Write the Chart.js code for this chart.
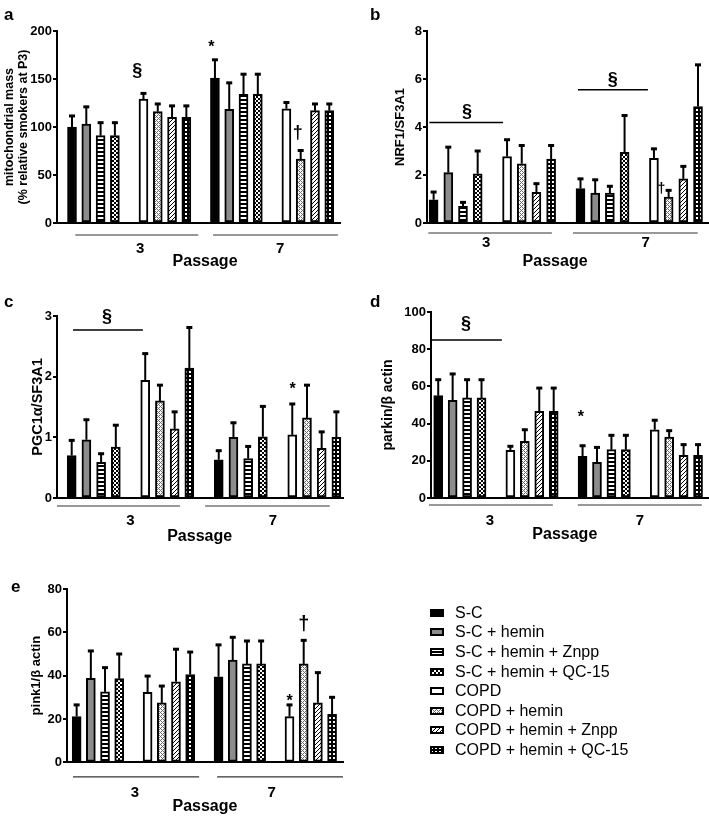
<!DOCTYPE html>
<html>
<head>
<meta charset="utf-8">
<script src="https://cdn.jsdelivr.net/npm/chart.js"></script>
<style>
  body { margin: 0; background: #fff; }
  #page { position: relative; width: 709px; height: 820px; overflow: hidden; background: #fff; }
  .panel { position: absolute; }
  #legend { position: absolute; left: 430px; top: 603px; font: 16px Arial, "Liberation Sans", sans-serif; color: #000; }
  #legend .item { height: 19.6px; display: flex; align-items: center; white-space: nowrap; }
  #legend canvas { width: 14px; height: 8px; margin-right: 11px; }
</style>
</head>
<body>
<div id="page">
  <div class="panel" style="left:0;top:0;width:350px;height:270px"><canvas id="chartA"></canvas></div>
  <div class="panel" style="left:355px;top:0;width:354px;height:270px"><canvas id="chartB"></canvas></div>
  <div class="panel" style="left:0;top:270px;width:350px;height:280px"><canvas id="chartC"></canvas></div>
  <div class="panel" style="left:355px;top:270px;width:354px;height:280px"><canvas id="chartD"></canvas></div>
  <div class="panel" style="left:0;top:540px;width:350px;height:280px"><canvas id="chartE"></canvas></div>
  <div id="legend"></div>
</div>
<script>
// treatments, in the order the bars appear inside each S-C / COPD group
const treatments = ['S-C', 'S-C + hemin', 'S-C + hemin + Znpp', 'S-C + hemin + QC-15',
                    'COPD', 'COPD + hemin', 'COPD + hemin + Znpp', 'COPD + hemin + QC-15'];
const passages = ['3', '7'];

// a: mitochondrial mass (% relative smokers at P3), mean and error
const massP3 = [100, 103, 91, 91, 129, 116, 110, 110];
const massP7 = [151, 118.5, 134, 134, 119, 66.5, 117, 117];
const massErrP3 = [11.5, 18, 13.5, 13.5, 6, 8, 12, 12];
const massErrP7 = [19, 27.5, 21, 21, 6.5, 9, 7, 7];

// b: NRF1/SF3A1
const nrf1P3 = [0.97, 2.1, 0.69, 2.05, 2.77, 2.47, 1.28, 2.66];
const nrf1P7 = [1.43, 1.25, 1.25, 2.94, 2.69, 1.08, 1.84, 4.85];
const nrf1ErrP3 = [0.32, 1.06, 0.17, 0.95, 0.7, 0.76, 0.36, 0.57];
const nrf1ErrP7 = [0.41, 0.55, 0.28, 1.54, 0.4, 0.28, 0.52, 1.74];

// c: PGC1a/SF3A1
const pgcP3 = [0.70, 0.96, 0.59, 0.84, 1.94, 1.6, 1.14, 2.14];
const pgcP7 = [0.63, 1.0, 0.65, 1.01, 1.04, 1.32, 0.82, 1.0];
const pgcErrP3 = [0.25, 0.33, 0.14, 0.36, 0.44, 0.26, 0.28, 0.67];
const pgcErrP7 = [0.15, 0.24, 0.2, 0.5, 0.51, 0.54, 0.27, 0.42];

// d: parkin/beta actin
const parkinP3 = [55, 52.5, 53.8, 53.8, 25.6, 30.5, 46.6, 46.6];
const parkinP7 = [22.4, 19.2, 26, 26, 36.7, 32.8, 22.9, 22.9];
const parkinErrP3 = [8.6, 14.2, 9.8, 9.8, 2.2, 6.2, 12.5, 12.5];
const parkinErrP7 = [5.7, 8, 7.7, 7.7, 5.1, 3.4, 5.8, 5.8];

// e: pink1/beta actin
const pinkP3 = [21.1, 38.8, 32.5, 38.6, 32.3, 27.4, 37.2, 40.5];
const pinkP7 = [39.5, 47.2, 45.4, 45.4, 21.1, 45.4, 27.5, 22.2];
const pinkErrP3 = [5.4, 12.6, 11.2, 11.4, 7.5, 7.8, 15, 10.4];
const pinkErrP7 = [14.7, 10.5, 10.6, 10.6, 5.4, 10.9, 13.9, 7.8];

const FONT = 'Arial, "Liberation Sans", Helvetica, sans-serif';
Chart.defaults.font.family = FONT;
Chart.defaults.color = '#000';

// bar fills: solid colours or small repeating tiles
function tile(w, h, draw) {
  const c = document.createElement('canvas');
  c.width = w; c.height = h;
  draw(c.getContext('2d'));
  return c;
}
const tiles = [
  null,
  null,
  tile(1, 4, g => { g.fillStyle = '#000'; g.fillRect(0, 0, 1, 4); g.fillStyle = '#fff'; g.fillRect(0, 1, 1, 2); }),
  tile(4, 4, g => { g.fillStyle = '#fff'; g.fillRect(0, 0, 4, 4); g.fillStyle = '#000'; g.fillRect(0, 0, 2, 2); g.fillRect(2, 2, 2, 2); }),
  null,
  tile(4, 4, g => {
    g.fillStyle = '#fff'; g.fillRect(0, 0, 4, 4); g.fillStyle = '#6a6a6a';
    [[0, 0], [1, 1], [2, 2], [3, 3], [3, 1], [1, 3]].forEach(([x, y]) => g.fillRect(x, y, 1, 1));
  }),
  tile(4, 4, g => {
    g.fillStyle = '#fff'; g.fillRect(0, 0, 4, 4); g.fillStyle = '#000';
    [[0, 3], [1, 2], [2, 1], [3, 0]].forEach(([x, y]) => g.fillRect(x, y, 1, 1));
  }),
  tile(4, 4, g => { g.fillStyle = '#000'; g.fillRect(0, 0, 4, 4); g.fillStyle = '#fff'; g.fillRect(1, 1, 2, 2); })
];
const solids = ['#000', '#8c8c8c', null, null, '#fff', null, null, null];
function fillFor(ctx, t) {
  return tiles[t] ? ctx.createPattern(tiles[t], 'repeat') : solids[t];
}
const scratch = document.createElement('canvas').getContext('2d');

// bar slot on the x scale: 4 bars per group, one empty slot between groups
function slotOf(t, p) {
  return (p * 2 + (t < 4 ? 0 : 1)) * 5 + (t % 4);
}

const errorBars = {
  id: 'errorBars',
  afterDatasetsDraw(chart) {
    const { ctx } = chart;
    const y = chart.scales.y;
    ctx.save();
    ctx.strokeStyle = '#000';
    chart.data.datasets.forEach((ds, i) => {
      chart.getDatasetMeta(i).data.forEach((bar, j) => {
        const top = y.getPixelForValue(ds.data[j].y + ds.errors[j]);
        ctx.lineWidth = 2;
        ctx.beginPath();
        ctx.moveTo(bar.x, bar.y);
        ctx.lineTo(bar.x, top);
        ctx.stroke();
        ctx.lineWidth = 3;
        ctx.beginPath();
        ctx.moveTo(bar.x - 3, top);
        ctx.lineTo(bar.x + 3, top);
        ctx.stroke();
      });
    });
    ctx.restore();
  }
};

const markSize = { '§': 18, '*': 16, '†': 18 };

const decor = {
  id: 'decor',
  afterDraw(chart, args, o) {
    const { ctx, chartArea } = chart;
    const x = chart.scales.x, y = chart.scales.y;
    const base = chartArea.bottom;
    ctx.save();
    ctx.fillStyle = '#000';
    ctx.strokeStyle = '#000';
    ctx.textBaseline = 'alphabetic';

    ctx.textAlign = 'left';
    ctx.font = 'bold 17px ' + FONT;
    ctx.fillText(o.letter, o.letterAt[0], o.letterAt[1]);

    ctx.lineWidth = 1.5;
    (o.brackets || []).forEach(b => {
      const py = y.getPixelForValue(b.value);
      ctx.beginPath();
      ctx.moveTo(x.getPixelForValue(b.from), py);
      ctx.lineTo(x.getPixelForValue(b.to), py);
      ctx.stroke();
    });

    ctx.textAlign = 'center';
    (o.marks || []).forEach(m => {
      ctx.font = 'bold ' + (m.size || markSize[m.text]) + 'px ' + FONT;
      const mt = ctx.measureText(m.text);
      const off = (mt.actualBoundingBoxAscent - mt.actualBoundingBoxDescent) / 2;
      ctx.fillText(m.text, x.getPixelForValue(m.slot), y.getPixelForValue(m.value) + off);
    });

    // passage brackets under the axis
    ctx.lineWidth = 1.2;
    ctx.strokeStyle = '#333';
    o.spans.forEach((s, i) => {
      const py = base + o.gaps[0];
      ctx.beginPath();
      ctx.moveTo(x.getPixelForValue(s[0]), py);
      ctx.lineTo(x.getPixelForValue(s[1]), py);
      ctx.stroke();
      ctx.font = 'bold 15px ' + FONT;
      const mt = ctx.measureText(passages[i]);
      ctx.fillText(passages[i], x.getPixelForValue(o.labelSlots[i]),
        base + o.gaps[1] + mt.actualBoundingBoxAscent / 2);
    });
    ctx.font = 'bold 16px ' + FONT;
    const pt = ctx.measureText('Passage');
    ctx.fillText('Passage', x.getPixelForValue(o.labelSlots[2]), base + o.gaps[2] + pt.actualBoundingBoxAscent / 2 - 2);
    ctx.restore();
  }
};

function makePanel(id, p) {
  const datasets = treatments.map((name, t) => ({
    label: name,
    data: [{ x: slotOf(t, 0), y: p.p3[t] }, { x: slotOf(t, 1), y: p.p7[t] }],
    errors: [p.e3[t], p.e7[t]],
    backgroundColor: fillFor(scratch, t),
    borderColor: '#000',
    borderWidth: 2,
    borderSkipped: false
  }));
  return new Chart(document.getElementById(id), {
    type: 'bar',
    data: { datasets },
    options: {
      responsive: true,
      maintainAspectRatio: false,
      animation: false,
      events: [],
      layout: { padding: p.padding },
      datasets: { bar: { grouped: false, categoryPercentage: 1, barPercentage: 1, maxBarThickness: 9 } },
      plugins: {
        legend: { display: false },
        tooltip: { enabled: false },
        decor: p.decor
      },
      scales: {
        x: {
          type: 'linear',
          min: p.xRange[0],
          max: p.xRange[1],
          offset: false,
          grid: { display: false },
          ticks: { display: false, stepSize: 5 },
          border: { color: '#000', width: 2 },
          afterFit: s => { s.height = 0; }
        },
        y: {
          min: 0,
          max: p.yMax,
          ticks: { stepSize: p.yStep, color: '#000', padding: 1, font: { size: 13, weight: 'bold' } },
          grid: { drawOnChartArea: false, color: '#000', lineWidth: 2, tickLength: 4 },
          border: { color: '#000', width: 2 },
          title: { display: true, text: p.title, color: '#000', font: p.titleFont, padding: { top: p.titlePad, bottom: 0 } },
          afterFit: s => { s.width = p.axisLeft; }
        }
      }
    },
    plugins: [errorBars, decor]
  });
}

makePanel('chartA', {
  p3: massP3, p7: massP7, e3: massErrP3, e7: massErrP7,
  padding: { left: 0, top: 31, right: 10, bottom: 47 }, axisLeft: 57,
  xRange: [-1.05, 18.75], yMax: 200, yStep: 50,
  title: ['mitochondrial mass', '(% relative smokers at P3)'],
  titleFont: { size: 12.5, weight: 'bold', lineHeight: 1.1 }, titlePad: 3,
  decor: {
    letter: 'a', letterAt: [4, 20],
    marks: [{ text: '§', slot: 4.56, value: 159 }, { text: '*', slot: 9.75, value: 187 }, { text: '†', slot: 15.8, value: 94 }],
    spans: [[0.23, 8.84], [9.87, 18.6]], labelSlots: [4.77, 14.56, 9.31], gaps: [12, 25, 39]
  }
});

makePanel('chartB', {
  p3: nrf1P3, p7: nrf1P7, e3: nrf1ErrP3, e7: nrf1ErrP7,
  padding: { left: 0, top: 31, right: 1, bottom: 47 }, axisLeft: 72,
  xRange: [-0.45, 18.68], yMax: 8, yStep: 2,
  title: 'NRF1/SF3A1', titleFont: { size: 13, weight: 'bold' }, titlePad: 38,
  decor: {
    letter: 'b', letterAt: [15, 20],
    brackets: [{ from: -0.29, to: 4.73, value: 4.19 }, { from: 9.83, to: 14.59, value: 5.55 }],
    marks: [{ text: '§', slot: 2.28, value: 4.65 }, { text: '§', slot: 12.2, value: 5.96 }, { text: '†', slot: 15.5, value: 1.45, size: 14 }],
    spans: [[-0.36, 8.05], [9.49, 17.98]], labelSlots: [3.58, 14.44, 8.27], gaps: [10, 19, 39]
  }
});

makePanel('chartC', {
  p3: pgcP3, p7: pgcP7, e3: pgcErrP3, e7: pgcErrP7,
  padding: { left: 0, top: 46, right: 7, bottom: 52 }, axisLeft: 57,
  xRange: [-1.0, 18.45], yMax: 3, yStep: 1,
  title: 'PGC1α/SF3A1', titleFont: { size: 14.5, weight: 'bold' }, titlePad: 29,
  decor: {
    letter: 'c', letterAt: [4, 37],
    brackets: [{ from: 0.09, to: 4.84, value: 2.77 }],
    marks: [{ text: '§', slot: 2.4, value: 2.99 }, { text: '*', slot: 15.03, value: 1.85 }],
    spans: [[-1.0, 7.36], [9.07, 17.55]], labelSlots: [4.0, 13.68, 8.7], gaps: [8, 22, 39]
  }
});

makePanel('chartD', {
  p3: parkinP3, p7: parkinP7, e3: parkinErrP3, e7: parkinErrP7,
  padding: { left: 0, top: 42, right: 1, bottom: 52 }, axisLeft: 76,
  xRange: [-0.5, 18.69], yMax: 100, yStep: 20,
  title: 'parkin/β actin', titleFont: { size: 14, weight: 'bold' }, titlePad: 25,
  decor: {
    letter: 'd', letterAt: [15, 37],
    brackets: [{ from: -0.5, to: 4.41, value: 85 }],
    marks: [{ text: '§', slot: 1.92, value: 94 }, { text: '*', slot: 9.88, value: 45.3 }],
    spans: [[-0.64, 7.94], [9.67, 18.26]], labelSlots: [3.58, 13.97, 8.77], gaps: [7, 22, 37]
  }
});

makePanel('chartE', {
  p3: pinkP3, p7: pinkP7, e3: pinkErrP3, e7: pinkErrP7,
  padding: { left: 0, top: 49, right: 7, bottom: 57.7 }, axisLeft: 67,
  xRange: [-0.68, 18.77], yMax: 80, yStep: 20,
  title: 'pink1/β actin', titleFont: { size: 13, weight: 'bold' }, titlePad: 29,
  decor: {
    letter: 'e', letterAt: [11, 52],
    marks: [{ text: '*', slot: 15.0, value: 30.1 }, { text: '†', slot: 16.0, value: 64.3, size: 20 }],
    spans: [[-0.26, 8.63], [9.9, 18.77]], labelSlots: [4.1, 13.75, 9.04], gaps: [14.5, 30, 45]
  }
});

// legend with pattern swatches
const legendEl = document.getElementById('legend');
treatments.forEach((name, t) => {
  const row = document.createElement('div');
  row.className = 'item';
  const sw = document.createElement('canvas');
  sw.width = 14; sw.height = 8;
  const g = sw.getContext('2d');
  g.fillStyle = '#000';
  g.fillRect(0, 0, 14, 8);
  g.fillStyle = fillFor(g, t);
  g.fillRect(2, 2, 10, 4);
  row.appendChild(sw);
  row.appendChild(document.createTextNode(name));
  legendEl.appendChild(row);
});
</script>
</body>
</html>
